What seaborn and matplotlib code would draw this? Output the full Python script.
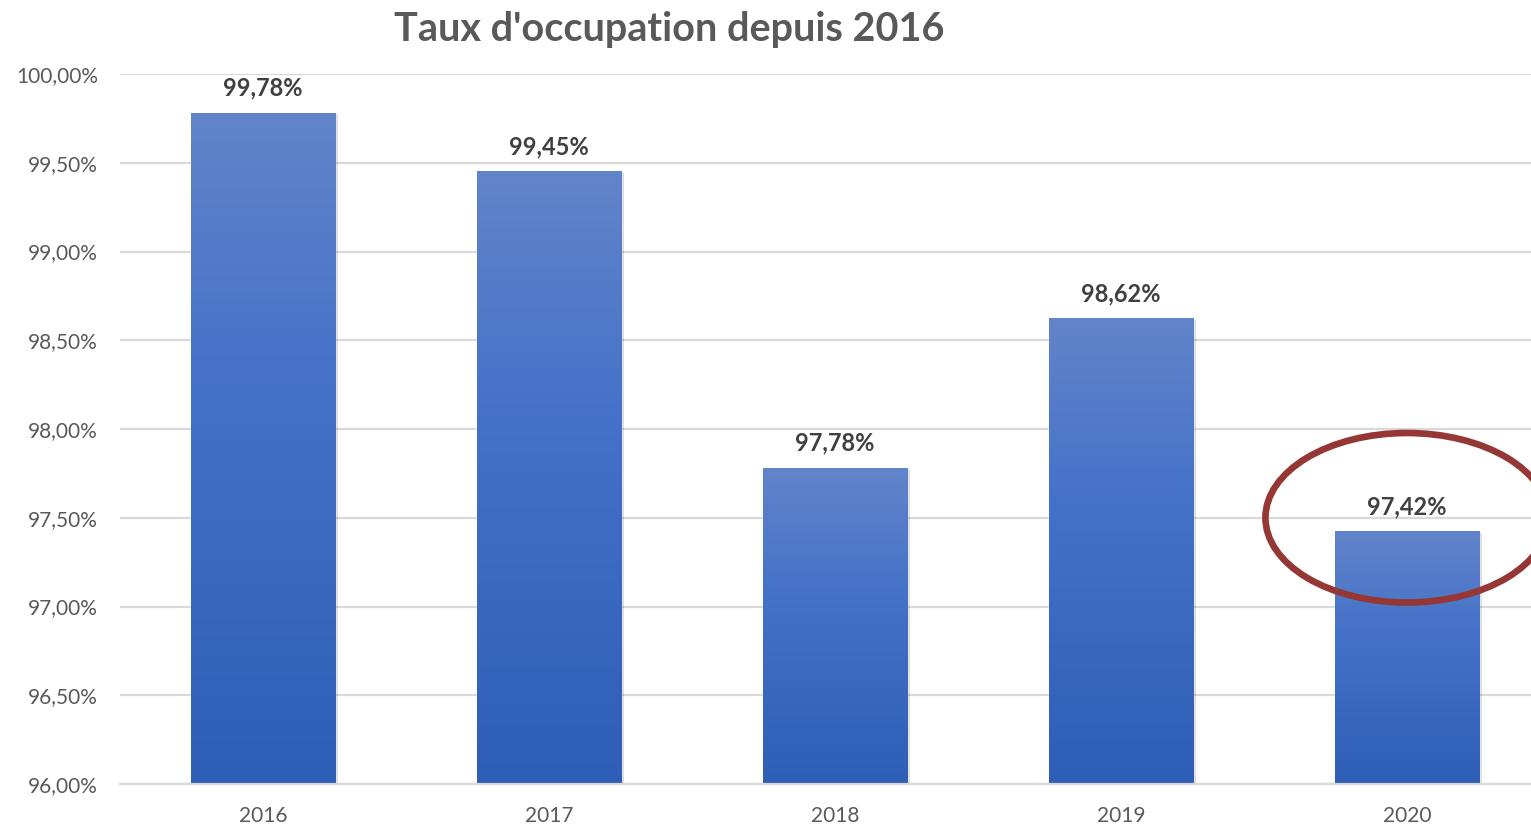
import matplotlib
matplotlib.use("Agg")
import matplotlib.pyplot as plt
import numpy as np
import pandas as pd
import seaborn as sns
from matplotlib.colors import LinearSegmentedColormap
from matplotlib.patches import Ellipse

years = ["2016", "2017", "2018", "2019", "2020"]
rates = [99.78, 99.45, 97.78, 98.62, 97.42]
y_ticks = [96.0, 96.5, 97.0, 97.5, 98.0, 98.5, 99.0, 99.5, 100.0]
title = "Taux d'occupation depuis 2016"

sns.set_theme(style="white")
plt.rcParams["font.family"] = ["Lato", "DejaVu Sans"]

df = pd.DataFrame({"year": years, "rate": rates})

fig = plt.figure(figsize=(15.31, 8.27), dpi=100)
ax = fig.add_axes([120 / 1531, 1 - 784 / 827, 1430 / 1531, 710 / 827])

sns.barplot(data=df, x="year", y="rate", color="#4472C8", width=0.505,
            saturation=1, ax=ax, zorder=3)

YMIN, YMAX = 96, 100
ax.set_ylim(YMIN, YMAX)
ax.set_xlim(-0.5, 4.5)
ax.set_yticks(y_ticks)
ax.set_yticklabels([f"{v:.2f}".replace(".", ",") + "%" for v in y_ticks])
ax.grid(axis="y", color="#D9D9D9", linewidth=1.6, zorder=0)
ax.set_axisbelow(True)
for s in ["left", "right", "top"]:
    ax.spines[s].set_visible(False)
ax.spines["bottom"].set_color("#D9D9D9")
ax.spines["bottom"].set_linewidth(1.6)
ax.spines["bottom"].set_zorder(4)
ax.tick_params(axis="y", length=0, pad=16, labelsize=15, labelcolor="#595959")
ax.tick_params(axis="x", length=0, pad=16, labelsize=15, labelcolor="#595959")
ax.set_xlabel("")
ax.set_ylabel("")

cmap = LinearSegmentedColormap.from_list(
    "g", [(0.0, "#2E5EB5"), (0.6, "#4472C8"), (1.0, "#6284CA")])
grad = np.linspace(0, 1, 256).reshape(-1, 1)
for p, v in zip(ax.patches, rates):
    x0, w = p.get_x(), p.get_width()
    top = p.get_y() + p.get_height()
    sh = plt.Rectangle((x0 + 0.008, YMIN), w, top - YMIN - 0.005,
                       facecolor="#000000", alpha=0.13, edgecolor="none",
                       zorder=2.5)
    ax.add_patch(sh)
    ax.imshow(grad, extent=[x0, x0 + w, YMIN, top], origin="lower",
              cmap=cmap, aspect="auto", zorder=3.5, interpolation="bilinear")
    ax.annotate(f"{v:.2f}".replace(".", ",") + "%", (x0 + w / 2, top),
                xytext=(0, 9.5), textcoords="offset points", ha="center",
                va="bottom", fontsize=17, fontweight="bold", color="#404040",
                zorder=5)
ax.set_xlim(-0.5, 4.5)
ax.set_ylim(YMIN, YMAX)

ell = Ellipse((4.0, 97.5), width=0.99, height=0.955, facecolor="none",
              edgecolor="#953735", linewidth=4.8, zorder=6, clip_on=False)
ax.add_patch(ell)

fig.text(669 / 1531, 1 - 29 / 827, title, ha="center", va="center",
         fontsize=28.5, fontweight="bold", color="#595959")

fig.savefig("out.png", dpi=100)
